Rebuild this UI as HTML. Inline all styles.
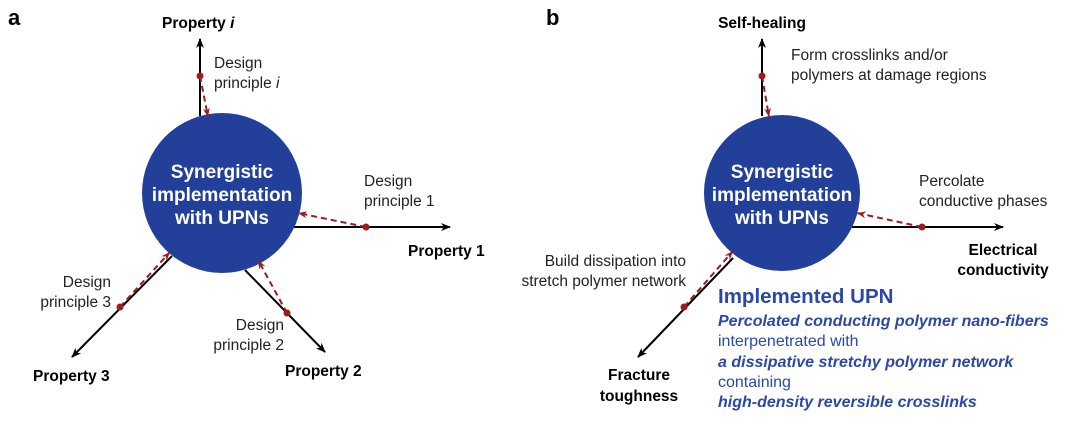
<!DOCTYPE html>
<html><head><meta charset="utf-8"><style>
body{margin:0;background:#fff;width:1080px;height:421px;overflow:hidden}
svg text{font-family:"Liberation Sans",Arial,sans-serif}
</style></head><body>
<svg width="1080" height="421" viewBox="0 0 1080 421">
<defs>
<marker id="ab" markerWidth="10" markerHeight="10" refX="9" refY="5" orient="auto" markerUnits="userSpaceOnUse"><path d="M0,1 L10,5 L0,9 L3,5z" fill="#000"/></marker>
<marker id="ar" markerWidth="10" markerHeight="10" refX="9" refY="5" orient="auto" markerUnits="userSpaceOnUse"><path d="M0,1.5 L9,5 L0,8.5 L3,5z" fill="#9b1c1c"/></marker>
</defs>
<g stroke="#000" stroke-width="2" fill="none">
<line x1="200" y1="116" x2="200" y2="39" marker-end="url(#ab)"/>
<line x1="290" y1="227" x2="450" y2="227" marker-end="url(#ab)"/>
<line x1="245" y1="270" x2="325" y2="352" marker-end="url(#ab)"/>
<line x1="172" y1="256" x2="72" y2="357" marker-end="url(#ab)"/>
<line x1="762" y1="116" x2="762" y2="39" marker-end="url(#ab)"/>
<line x1="852" y1="227" x2="1003" y2="227" marker-end="url(#ab)"/>
<line x1="733" y1="258" x2="638" y2="357" marker-end="url(#ab)"/>
</g>
<circle cx="222" cy="193" r="80" fill="#22409a"/>
<circle cx="782" cy="193" r="78" fill="#22409a"/>
<g stroke="#9b1c1c" stroke-width="2" fill="none" stroke-dasharray="6,4">
<line x1="200" y1="76" x2="208" y2="117" marker-end="url(#ar)"/>
<line x1="366" y1="227" x2="298" y2="213" marker-end="url(#ar)"/>
<line x1="287" y1="313" x2="258" y2="260" marker-end="url(#ar)"/>
<line x1="120" y1="307" x2="170" y2="252" marker-end="url(#ar)"/>
<line x1="762" y1="76" x2="769" y2="117" marker-end="url(#ar)"/>
<line x1="922" y1="227" x2="857" y2="213" marker-end="url(#ar)"/>
<line x1="684" y1="307" x2="733" y2="251" marker-end="url(#ar)"/>
</g>
<g fill="#9b1c1c">
<circle cx="200" cy="76" r="3.5"/><circle cx="366" cy="227" r="3.5"/><circle cx="287" cy="313" r="3.5"/><circle cx="120" cy="307" r="3.5"/>
<circle cx="762" cy="76" r="3.5"/><circle cx="922" cy="227" r="3.5"/><circle cx="684" cy="307" r="3.5"/>
</g>
<g fill="#fff" font-weight="bold" font-size="19" text-anchor="middle">
<text x="222" y="178">Synergistic</text><text x="222" y="201">implementation</text><text x="222" y="224">with UPNs</text>
<text x="782" y="178">Synergistic</text><text x="782" y="201">implementation</text><text x="782" y="224">with UPNs</text>
</g>
<g font-size="22" font-weight="bold"><text x="8" y="25">a</text><text x="546" y="25">b</text></g>
<g font-size="15.5" font-weight="bold" fill="#000">
<text x="162" y="28">Property <tspan font-style="italic">i</tspan></text>
<text x="408" y="256">Property 1</text>
<text x="285" y="376">Property 2</text>
<text x="33" y="381">Property 3</text>
<text x="762" y="28" text-anchor="middle">Self-healing</text>
<text x="1003" y="255" text-anchor="middle">Electrical</text>
<text x="1003" y="275" text-anchor="middle">conductivity</text>
<text x="639" y="380" text-anchor="middle">Fracture</text>
<text x="639" y="401" text-anchor="middle">toughness</text>
</g>
<g font-size="15.5" fill="#222">
<text x="214" y="68">Design</text><text x="214" y="88">principle <tspan font-style="italic">i</tspan></text>
<text x="364" y="186">Design</text><text x="364" y="206">principle 1</text>
<text x="111" y="287" text-anchor="end">Design</text><text x="111" y="307" text-anchor="end">principle 3</text>
<text x="284" y="330" text-anchor="end">Design</text><text x="284" y="350" text-anchor="end">principle 2</text>
<text x="791" y="60">Form crosslinks and/or</text><text x="791" y="80">polymers at damage regions</text>
<text x="919" y="186">Percolate</text><text x="919" y="206">conductive phases</text>
<text x="686" y="266" text-anchor="end">Build dissipation into</text><text x="686" y="286" text-anchor="end">stretch polymer network</text>
</g>
<g fill="#2b48a8" font-size="16">
<text x="718" y="303" font-size="20.5" font-weight="bold">Implemented UPN</text>
<text x="718" y="326" font-weight="bold" font-style="italic">Percolated conducting polymer nano-fibers</text>
<text x="718" y="346">interpenetrated with</text>
<text x="718" y="367" font-weight="bold" font-style="italic">a dissipative stretchy polymer network</text>
<text x="718" y="387">containing</text>
<text x="718" y="407" font-weight="bold" font-style="italic">high-density reversible crosslinks</text>
</g>
</svg>
</body></html>
